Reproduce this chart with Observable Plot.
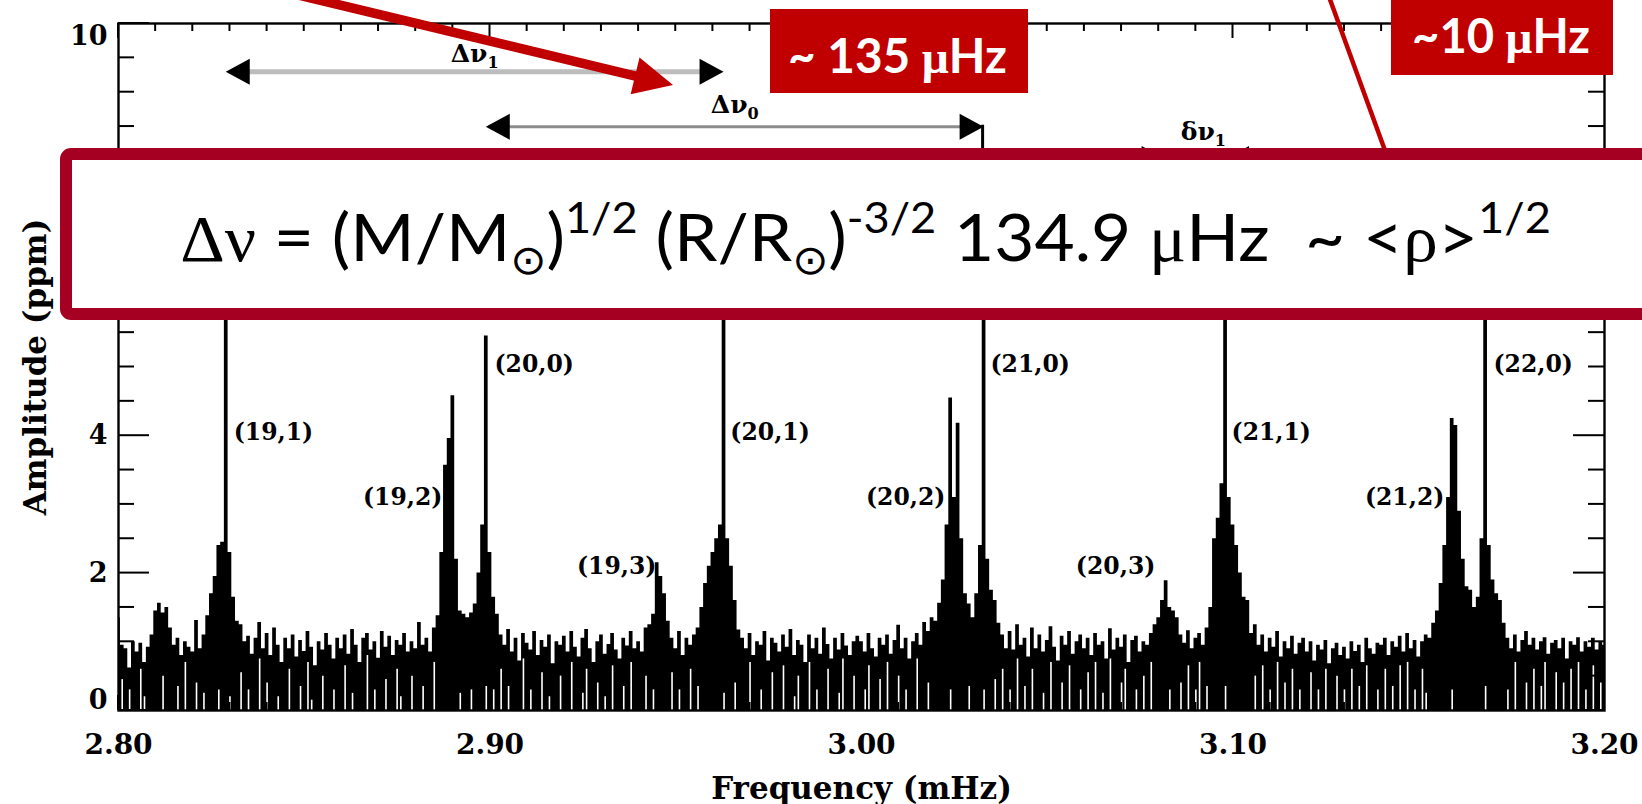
<!DOCTYPE html>
<html>
<head>
<meta charset="utf-8">
<script src="https://cdn.jsdelivr.net/npm/d3@7"></script>
<script src="https://cdn.jsdelivr.net/npm/@observablehq/plot@0.6"></script>
<style>
  html, body { margin: 0; padding: 0; background: #fff; overflow: hidden; }
  #chart { width: 1642px; height: 804px; }
</style>
</head>
<body>
<div id="chart"></div>
<script>
// Low-degree solar p-mode amplitude spectrum, 1 µHz bins starting at 2.800 mHz
const binStart = 2.800;   // mHz
const binWidth = 0.001;   // mHz

// Upper envelope of each bin (ppm)
const ampTop = [
  1.35, 0.95, 0.9, 0.62, 1.0, 0.85, 0.98, 0.7, 0.92, 1.1, 1.45, 1.56, 1.42, 1.5, 1.2, 0.95, 1.05, 0.8, 1.0, 0.92,
  0.85, 1.31, 0.9, 1.1, 1.38, 1.7, 1.95, 2.4, 2.45, 6.6, 2.3, 1.65, 1.3, 1.25, 1.0, 1.08, 0.82, 1.05, 1.28, 0.9,
  1.12, 0.8, 1.2, 0.95, 0.7, 1.05, 0.9, 1.1, 0.78, 1.02, 0.86, 1.15, 0.92, 0.65, 1.0, 0.88, 1.12, 0.95, 0.75, 1.05,
  0.9, 1.1, 0.82, 1.18, 0.95, 0.7, 1.05, 1.12, 0.88, 1.0, 0.76, 1.15, 0.92, 1.08, 0.8, 1.02, 0.95, 1.12, 0.85, 1.0,
  0.9, 1.28, 0.95, 1.05, 0.85, 1.2, 1.38, 2.3, 3.57, 3.96, 4.58, 2.2, 1.45, 1.4, 1.35, 1.42, 1.55, 2.0, 2.7, 5.45,
  2.3, 1.65, 1.4, 1.1, 0.95, 1.18, 0.85, 1.05, 0.72, 1.12, 0.98, 0.88, 1.15, 0.8, 1.02, 0.92, 1.1, 0.68, 1.0, 0.95,
  1.08, 0.85, 1.15, 0.92, 0.78, 1.05, 1.18, 0.9, 0.7, 1.0, 1.1, 0.82, 0.96, 1.12, 0.88, 0.75, 1.05, 0.94, 1.15, 0.9,
  1.0, 0.85, 1.2, 1.25, 1.4, 2.15, 1.95, 1.7, 1.3, 1.05, 0.9, 1.15, 0.8, 1.05, 0.95, 1.1, 1.2, 1.5, 1.85, 2.1,
  2.3, 2.5, 2.7, 7.2, 2.5, 2.1, 1.6, 1.17, 1.05, 0.9, 1.12, 0.8, 1.0, 0.95, 1.15, 0.72, 1.05, 0.98, 0.85, 1.1,
  0.92, 1.18, 0.8, 1.02, 0.95, 0.7, 1.1, 0.9, 1.05, 0.82, 1.2, 0.96, 0.75, 1.05, 0.88, 1.12, 0.94, 0.8, 1.0, 1.08,
  1.0, 0.85, 1.12, 0.9, 0.78, 1.05, 0.95, 1.1, 0.82, 1.02, 1.24, 0.9, 1.05, 0.75, 1.0, 1.12, 0.95, 1.28, 1.15, 1.35,
  1.3, 1.56, 1.9, 2.7, 4.55, 3.1, 4.18, 2.5, 1.7, 1.55, 1.35, 1.7, 2.4, 6.4, 2.2, 1.75, 1.6, 1.27, 1.1, 0.9,
  1.15, 0.88, 1.25, 0.95, 1.05, 0.78, 1.2, 0.9, 1.1, 0.85, 1.02, 1.22, 0.92, 0.72, 1.08, 0.95, 1.15, 0.82, 1.0, 1.1,
  0.9, 1.05, 0.8, 1.12, 0.95, 1.0, 0.75, 1.19, 0.88, 1.05, 0.92, 1.1, 0.7, 1.02, 1.08, 0.85, 1.0, 0.95, 1.12, 1.25,
  1.35, 1.6, 1.89, 1.5, 1.45, 1.35, 1.1, 0.98, 1.16, 0.9, 1.05, 1.12, 0.95, 1.2, 1.5, 2.5, 2.8, 3.3, 7.0, 3.1,
  2.7, 2.4, 2.0, 1.65, 1.6, 1.12, 1.25, 0.95, 1.1, 0.85, 1.05, 0.92, 1.15, 0.78, 1.0, 0.9, 1.08, 0.82, 0.98, 1.05,
  0.85, 1.0, 0.72, 0.95, 0.88, 1.02, 0.68, 0.9, 0.98, 0.8, 0.92, 0.75, 1.0, 0.86, 0.95, 0.7, 1.05, 0.9, 0.82, 0.98,
  0.95, 1.05, 0.8, 1.0, 0.92, 1.08, 0.85, 1.12, 0.9, 1.02, 0.78, 1.0, 1.1, 1.05, 1.27, 1.45, 1.85, 2.4, 3.1, 4.25,
  4.15, 2.9, 2.2, 1.8, 1.75, 1.5, 1.65, 2.5, 6.2, 2.4, 1.9, 1.7, 1.6, 1.27, 1.05, 0.9, 1.1, 0.85, 1.02, 1.15,
  0.95, 1.05, 0.88, 1.0, 1.06, 0.82, 0.98, 1.02, 0.9, 1.05, 0.75, 1.0, 0.95, 1.06, 0.85, 1.0, 0.92, 1.05, 0.88, 1.0, 0.95
];

// Bins where the signal never drops to zero, and the lowest level reached there (ppm)
const gapBin = [1, 3, 6, 7, 12, 16, 18, 21, 23, 27, 30, 33, 35, 38, 40, 43, 46, 49, 51, 52, 55, 58, 61, 63, 67, 69, 72, 75, 76, 79,
  82, 85, 92, 95, 99, 101, 103, 105, 109, 111, 114, 116, 119, 122, 125, 126, 129, 131, 133, 136, 138, 142, 144, 149, 151, 154, 156,
  163, 166, 170, 173, 176, 179, 182, 183, 186, 188, 191, 194, 195, 198, 201, 202, 205, 207, 210, 212, 215, 218, 224, 229, 233, 236,
  238, 240, 242, 244, 246, 249, 251, 254, 256, 259, 261, 263, 265, 267, 270, 271, 274, 276, 278, 283, 286, 288, 290, 291, 293, 298,
  306, 308, 310, 312, 314, 316, 318, 321, 323, 325, 328, 330, 332, 334, 336, 339, 341, 343, 345, 347, 349, 351, 352, 359, 368, 374,
  376, 379, 381, 383, 384, 387, 389, 391, 393, 395, 397, 399];
const gapLevel = [0.45, 0.3, 0.6, 0.2, 0.5, 0.35, 0.7, 0.4, 0.25, 0.3, 0.2, 0.55, 0.3, 0.75, 0.4, 0.2, 0.6, 0.35, 0.7, 0.15, 0.5, 0.3, 0.65, 0.25, 0.8, 0.3, 0.45, 0.6, 0.2, 0.5,
  0.35, 0.7, 0.25, 0.3, 0.35, 0.3, 0.6, 0.35, 0.75, 0.3, 0.55, 0.2, 0.5, 0.7, 0.25, 0.6, 0.4, 0.2, 0.65, 0.35, 0.7, 0.5, 0.3, 0.55, 0.3, 0.6, 0.35,
  0.25, 0.4, 0.7, 0.3, 0.55, 0.65, 0.2, 0.5, 0.7, 0.3, 0.6, 0.25, 0.75, 0.5, 0.3, 0.65, 0.45, 0.7, 0.5, 0.3, 0.75, 0.4, 0.3, 0.35, 0.3, 0.45,
  0.6, 0.3, 0.75, 0.35, 0.6, 0.25, 0.7, 0.4, 0.65, 0.3, 0.55, 0.7, 0.25, 0.75, 0.4, 0.6, 0.3, 0.5, 0.7, 0.3, 0.4, 0.65, 0.3, 0.7, 0.35, 0.35,
  0.5, 0.65, 0.3, 0.7, 0.4, 0.6, 0.3, 0.55, 0.3, 0.6, 0.5, 0.3, 0.6, 0.35, 0.65, 0.3, 0.6, 0.35, 0.65, 0.7, 0.3, 0.6, 0.25, 0.3, 0.35, 0.3,
  0.7, 0.4, 0.6, 0.35, 0.7, 0.55, 0.4, 0.6, 0.7, 0.3, 0.65, 0.4];

// Mode identifications (n,l) and where their labels sit
const modeName  = ["(19,1)", "(19,2)", "(20,0)", "(19,3)", "(20,1)", "(20,2)", "(21,0)", "(20,3)", "(21,1)", "(21,2)", "(22,0)"];
const labelFreq = [2.8310, 2.8872, 2.9012, 2.9448, 2.9647, 3.0226, 3.0347, 3.0791, 3.0996, 3.1569, 3.1701];
const labelAmp  = [4.05, 3.10, 5.03, 2.10, 4.05, 3.10, 5.03, 2.10, 4.05, 3.10, 5.03];
const labelSide = ["right", "left", "right", "left", "right", "left", "right", "left", "right", "left", "right"];

// Frequency separations marked above the spectrum
const spacingName  = ["Δν1", "Δν0", "δν1"];
const spacingFrom  = [2.829, 2.899, 3.082];
const spacingTo    = [2.963, 3.033, 3.098];
const spacingLevel = [9.29, 8.49, 8.02];

// Axes
const xTickValues = [2.80, 2.90, 3.00, 3.10, 3.20];
const xTickLabels = ["2.80", "2.90", "3.00", "3.10", "3.20"];
const yTickValues = [0, 2, 4, 6, 8, 10];
const yTickLabels = ["0", "2", "4", "6", "8", "10"];
const xTitle = "Frequency (mHz)";
const yTitle = "Amplitude (ppm)";

// ---- derived tables ----
const bins = ampTop.map((a, i) => ({f: binStart + i * binWidth, top: a}));
const gaps = gapBin.map((b, k) => ({f: binStart + b * binWidth, level: gapLevel[k]}));

const modes = modeName.map((name, i) => ({name, f: labelFreq[i], a: labelAmp[i], side: labelSide[i]}));
const xTicks = xTickValues.map((v, i) => ({v, label: xTickLabels[i]}));
const yTicks = yTickValues.map((v, i) => ({v, label: yTickLabels[i]}));
const spacings = spacingName.map((name, i) => ({name, from: spacingFrom[i], to: spacingTo[i], level: spacingLevel[i]}));

const serifBold = {fontFamily: "DejaVu Serif", fontWeight: "bold", fill: "black"};

// inward ticks on all four sides of the frame
function frameTicks(index, scales, values, dim) {
  const {x, y} = scales;
  const left = dim.marginLeft, right = dim.width - dim.marginRight;
  const top = dim.marginTop, bottom = dim.height - dim.marginBottom;
  const g = d3.create("svg:g").attr("stroke", "black").attr("stroke-width", 2);
  const xMinor = d3.range(0, 41).map(k => 2.8 + k * 0.01);
  for (const f of xMinor) {
    const px = x(f);
    const major = xTickValues.some(v => Math.abs(v - f) < 1e-6);
    const len = major ? 15 : 8;
    g.append("line").attr("x1", px).attr("x2", px).attr("y1", top).attr("y2", top + len);
    g.append("line").attr("x1", px).attr("x2", px).attr("y1", bottom).attr("y2", bottom - len);
  }
  const yMinor = d3.range(0, 21).map(k => k * 0.5);
  for (const a of yMinor) {
    const py = y(a);
    const major = yTickValues.some(v => Math.abs(v - a) < 1e-6);
    const len = major ? 31 : 16;
    g.append("line").attr("x1", left).attr("x2", left + len).attr("y1", py).attr("y2", py);
    g.append("line").attr("x1", right).attr("x2", right - len).attr("y1", py).attr("y2", py);
  }
  return g.node();
}

// separation arrows (Δν and δν) drawn in data coordinates
function spacingArrows(index, scales) {
  const {x, y} = scales;
  const g = d3.create("svg:g");
  const head = (xt, yc, dir) =>
    g.append("path").attr("fill", "black")
      .attr("d", `M${xt},${yc}L${xt - dir * 24},${yc - 13}L${xt - dir * 24},${yc + 13}Z`);
  const label = (s, xc, yb) => {
    const t = g.append("text").attr("x", xc).attr("y", yb).attr("text-anchor", "middle")
      .attr("font-family", "DejaVu Serif").attr("font-weight", "bold").attr("font-size", 25);
    t.append("tspan").text(s.slice(0, 2));
    t.append("tspan").attr("font-size", 16).attr("dy", 6).text(s.slice(2));
  };
  spacings.forEach((s, i) => {
    const x1 = x(s.from), x2 = x(s.to), yc = y(s.level);
    if (i === 0) {
      g.append("line").attr("x1", x1 + 10).attr("x2", x2 - 10).attr("y1", yc).attr("y2", yc)
        .attr("stroke", "#bdbdbd").attr("stroke-width", 5);
      head(x1, yc, -1); head(x2, yc, 1);
      label(s.name, (x1 + x2) / 2, yc - 10);
    } else if (i === 1) {
      g.append("line").attr("x1", x1 + 10).attr("x2", x2 - 10).attr("y1", yc).attr("y2", yc)
        .attr("stroke", "#8c8c8c").attr("stroke-width", 3);
      head(x1, yc, -1); head(x2, yc, 1);
      g.append("line").attr("x1", x2 - 1).attr("x2", x2 - 1).attr("y1", yc - 2).attr("y2", yc + 30)
        .attr("stroke", "black").attr("stroke-width", 3);
      label(s.name, (x1 + x2) / 2, yc - 14);
    } else {
      g.append("line").attr("x1", x1 - 36).attr("x2", x1 - 6).attr("y1", yc).attr("y2", yc)
        .attr("stroke", "#8c8c8c").attr("stroke-width", 3);
      g.append("line").attr("x1", x2 + 6).attr("x2", x2 + 36).attr("y1", yc).attr("y2", yc)
        .attr("stroke", "#8c8c8c").attr("stroke-width", 3);
      head(x1, yc, 1); head(x2, yc, -1);
      label(s.name, (x1 + x2) / 2 + 8, yc - 19);
    }
  });
  return g.node();
}

const chart = Plot.plot({
  width: 1642,
  height: 804,
  marginLeft: 118,
  marginRight: 38,
  marginTop: 23,
  marginBottom: 94,
  style: {background: "white", overflow: "visible"},
  x: {domain: [2.8, 3.2], axis: null},
  y: {domain: [0, 10], axis: null},
  marks: [
    Plot.areaY(bins, {x: "f", y: "top", curve: "step", fill: "black"}),
    Plot.ruleX(gaps, {x: "f", y1: 0, y2: "level", stroke: "white", strokeWidth: 1.6}),
    Plot.frame({stroke: "black", strokeWidth: 2.4}),
    frameTicks,
    // tick labels
    Plot.text(xTicks, {x: "v", text: "label", frameAnchor: "bottom", lineAnchor: "middle", dy: 35, fontSize: 28, ...serifBold}),
    Plot.text(yTicks.filter(d => d.v > 0 && d.v < 10), {y: "v", text: "label", frameAnchor: "left", lineAnchor: "middle", dx: -11, textAnchor: "end", fontSize: 27, ...serifBold}),
    Plot.text(yTicks.filter(d => d.v === 0), {y: "v", text: "label", frameAnchor: "left", lineAnchor: "middle", dx: -11, dy: -10, textAnchor: "end", fontSize: 27, ...serifBold}),
    Plot.text(yTicks.filter(d => d.v === 10), {y: "v", text: "label", frameAnchor: "left", lineAnchor: "middle", dx: -11, dy: 13, textAnchor: "end", fontSize: 27, ...serifBold}),
    // axis titles
    Plot.text([xTitle], {frameAnchor: "bottom", lineAnchor: "middle", textAnchor: "middle", dy: 79, fontSize: 31, ...serifBold}),
    Plot.text([yTitle], {frameAnchor: "left", lineAnchor: "middle", textAnchor: "middle", dx: -82, rotate: -90, fontSize: 31, ...serifBold}),
    // mode labels
    Plot.text(modes.filter(d => d.side === "right"), {x: "f", y: "a", text: "name", textAnchor: "start", lineAnchor: "middle", fontSize: 23.5, ...serifBold}),
    Plot.text(modes.filter(d => d.side === "left"), {x: "f", y: "a", text: "name", textAnchor: "end", lineAnchor: "middle", fontSize: 23.5, ...serifBold}),
    spacingArrows
  ]
});

document.getElementById("chart").append(chart);

// ---- slide call-outs on top of the spectrum ----
const svg = d3.select(chart);
const ov = svg.append("g");
const red = "#c00000";

function fitText(g, x0, x1, baseline) {
  const b = g.select("text").node().getBBox();
  const sx = (x1 - x0) / b.width;
  g.attr("transform", `translate(${x0 - b.x * sx},${baseline}) scale(${sx},1)`);
}

// thick arrow pointing at the large separation
{
  const tip = [673, 85];
  const ux = 0.9723, uy = 0.2335, nx = -uy, ny = ux;
  const start = [tip[0] - 410 * ux, tip[1] - 410 * uy];
  const end = [tip[0] - 32 * ux, tip[1] - 32 * uy];
  ov.append("line").attr("x1", start[0]).attr("y1", start[1]).attr("x2", end[0]).attr("y2", end[1])
    .attr("stroke", red).attr("stroke-width", 9.5);
  const bx = tip[0] - 39 * ux, by = tip[1] - 39 * uy;
  ov.append("path").attr("fill", red)
    .attr("d", `M${tip[0]},${tip[1]}L${bx + 19 * nx},${by + 19 * ny}L${bx - 19 * nx},${by - 19 * ny}Z`);
}

// thin line pointing at the small separation
ov.append("line").attr("x1", 1328).attr("y1", -6).attr("x2", 1387).attr("y2", 156)
  .attr("stroke", red).attr("stroke-width", 4.5);

// "~ 135 µHz" box
ov.append("rect").attr("x", 770).attr("y", 9).attr("width", 258).attr("height", 84).attr("fill", red);
{
  const g = ov.append("g");
  const t = g.append("text").attr("fill", "white").attr("font-family", "Lato, 'Open Sans', sans-serif")
    .attr("font-weight", "bold").attr("font-size", 47).style("white-space", "pre");
  t.append("tspan").text("~ 135 ");
  t.append("tspan").attr("font-family", "Liberation Serif").text("μ");
  t.append("tspan").text("Hz");
  fitText(g, 788, 1007, 73);
}

// "~10 µHz" box
ov.append("rect").attr("x", 1391).attr("y", -6).attr("width", 222).attr("height", 81).attr("fill", red);
{
  const g = ov.append("g");
  const t = g.append("text").attr("fill", "white").attr("font-family", "Lato, 'Open Sans', sans-serif")
    .attr("font-weight", "bold").attr("font-size", 47).style("white-space", "pre");
  t.append("tspan").text("~10 ");
  t.append("tspan").attr("font-family", "Liberation Serif").text("μ");
  t.append("tspan").text("Hz");
  fitText(g, 1412, 1590, 53);
}

// scaling-relation box
ov.append("rect").attr("x", 66).attr("y", 154).attr("width", 1620).attr("height", 160).attr("rx", 5)
  .attr("fill", "white").attr("stroke", "#a50021").attr("stroke-width", 12);
{
  const g = ov.append("g");
  const t = g.append("text").attr("fill", "black").attr("font-family", "Lato, 'Open Sans', sans-serif")
    .attr("font-size", 66).style("white-space", "pre");
  const serif = "Liberation Serif", sym = "DejaVu Sans";
  const parts = [
    ["Δν", {ff: serif}],
    [" = (M/M", {}],
    ["⊙", {ff: sym, fs: 41, dy: 13}],
    [")", {dy: -13}],
    ["1/2", {fs: 43, dy: -28}],
    [" (R/R", {dy: 28}],
    ["⊙", {ff: sym, fs: 41, dy: 13}],
    [")", {dy: -13}],
    ["-3/2", {fs: 43, dy: -28}],
    [" 134.9 ", {dy: 28}],
    ["μ", {ff: serif}],
    ["Hz  ~ <", {}],
    ["ρ", {ff: serif}],
    [">", {}],
    ["1/2", {fs: 43, dy: -28}]
  ];
  for (const [s, o] of parts) {
    const sp = t.append("tspan").text(s);
    if (o.ff) sp.attr("font-family", o.ff);
    if (o.fs) sp.attr("font-size", o.fs);
    if (o.dy) sp.attr("dy", o.dy);
  }
  fitText(g, 180, 1551, 261);
}
</script>
</body>
</html>
